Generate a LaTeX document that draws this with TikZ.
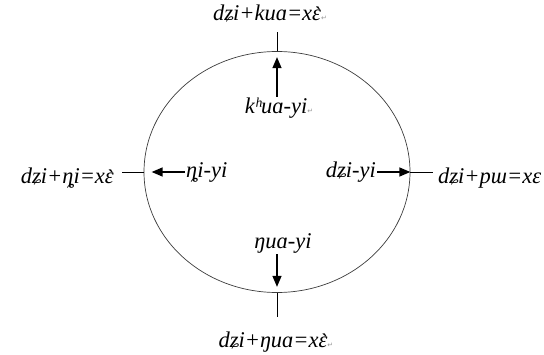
\documentclass[tikz,border=0pt]{standalone}
\usepackage{fontspec}
\setmainfont{Liberation Serif}
\newfontfamily\markfont{DejaVu Sans}
\usetikzlibrary{arrows.meta,shapes.geometric}
\definecolor{ringline}{RGB}{60,60,60}
\definecolor{pmarkgray}{RGB}{150,150,150}
\newcommand{\pmark}{\textcolor{pmarkgray}{\markfont\fontsize{7}{8}\selectfont ↵}}
\newcommand{\egrave}{\ooalign{ɛ\cr\hidewidth\kern3pt\raisebox{-2pt}{\char"2CB}\hidewidth}}
\tikzset{
	ring/.style={ellipse, draw=ringline, line width=0.7pt, minimum width=266pt, minimum height=241pt, inner sep=0pt},
	tick/.style={draw=black, line width=0.7pt},
	push/.style={draw=black, line width=1.4pt, -{Triangle[length=11pt,width=9pt]}},
	word/.style={font=\itshape\fontsize{22.5}{26}\selectfont, inner sep=1pt}
}

\begin{document}
\begin{tikzpicture}[x=1pt,y=1pt]
		
		\useasboundingbox (0,0) rectangle (544,354);
		
		\node[ring] (ring) at (277,182) {};
		
		% outer words
		\node[word] (tN) at (270,340) {dʑi+kuɑ=x\egrave\pmark};
		\node[word, anchor=east] (tW) at (115,176) {dʑi+ȵi=x\egrave};
		\node[word, anchor=west] (tE) at (437,176) {dʑi+pɯ=xɛ};
		\node[word] (tS) at (276,12) {dʑi+ŋuɑ=x\egrave\pmark};
		
		% inner words
		\node[word] (iN) at (279,246) {kʰuɑ-yi\pmark};
		\node[word, anchor=west] (iW) at (185,182) {ȵi-yi};
		\node[word, anchor=east] (iE) at (377,182) {dʑi-yi};
		\node[word] (iS) at (283,111) {ŋuɑ-yi};
		
		\coordinate (eN) at (277,322);
		\coordinate (eW) at (122,182);
		\coordinate (eE) at (433,182);
		\coordinate (eS) at (277,37);
		
		\draw[tick] (ring.north) -- (eN);
		\draw[tick] (ring.west) -- (eW);
		\draw[tick] (ring.east) -- (eE);
		\draw[tick] (ring.south) -- (eS);
		
		\coordinate (pN) at ([yshift=-6pt]ring.north);
		\coordinate (pW) at ([xshift=8pt]ring.west);
		\coordinate (pS) at ([yshift=6pt]ring.south);
		
		\draw[push] (iN.north -| pN) -- (pN);
		\draw[push] (iW.west) -- (pW);
		\draw[push] (iE.east) -- (ring.east);
		\draw[push] (iS.south -| pS) -- (pS);
		
	\end{tikzpicture}
\end{document}
